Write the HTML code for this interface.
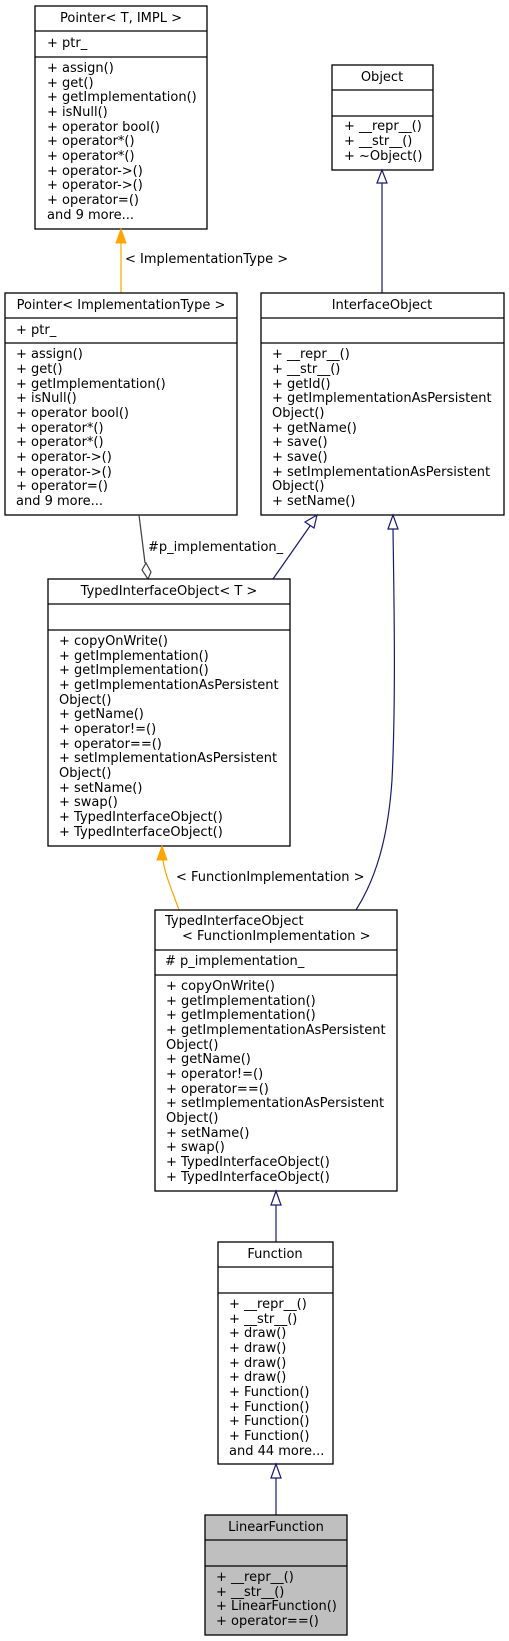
<!DOCTYPE html>
<html><head><meta charset="utf-8"><style>
html,body{margin:0;padding:0;background:#fff;}
svg{display:block;}
text{font-family:"DejaVu Sans","Liberation Sans",sans-serif;font-size:13px;fill:#000;}
.b{fill:#fff;stroke:#000;stroke-width:1.3;}
.g{fill:#bfbfbf;stroke:#000;stroke-width:1.3;}
.s{stroke:#000;stroke-width:1.3;}
</style></head><body>
<svg width="509" height="1641" viewBox="0 0 509 1641" xmlns="http://www.w3.org/2000/svg">
<rect class="b" x="35" y="6" width="172" height="223"/>
<line class="s" x1="35" y1="31" x2="207" y2="31"/><line class="s" x1="35" y1="57" x2="207" y2="57"/>
<text x="121" y="22" text-anchor="middle">Pointer&lt; T, IMPL &gt;</text>
<text x="47" y="47">+ ptr_</text>
<text x="47" y="72">+ assign()</text>
<text x="47" y="87">+ get()</text>
<text x="47" y="101">+ getImplementation()</text>
<text x="47" y="116">+ isNull()</text>
<text x="47" y="131">+ operator bool()</text>
<text x="47" y="145">+ operator*()</text>
<text x="47" y="160">+ operator*()</text>
<text x="47" y="175">+ operator-&gt;()</text>
<text x="47" y="189">+ operator-&gt;()</text>
<text x="47" y="204">+ operator=()</text>
<text x="47" y="219">and 9 more...</text>
<rect class="b" x="332" y="65" width="101" height="105"/>
<line class="s" x1="332" y1="90" x2="433" y2="90"/><line class="s" x1="332" y1="116" x2="433" y2="116"/>
<text x="382" y="81" text-anchor="middle">Object</text>
<text x="344" y="130">+ __repr__()</text>
<text x="344" y="145">+ __str__()</text>
<text x="344" y="160">+ ~Object()</text>
<line x1="121" y1="293" x2="121" y2="243" stroke="#ffa500" stroke-width="1.2"/>
<polygon points="121,229 116,243 126,243" fill="#ffa500" stroke="#ffa500"/>
<text x="125" y="263">&lt; ImplementationType &gt;</text>
<line x1="382" y1="293" x2="382" y2="183" stroke="#191970" stroke-width="1.2"/>
<polygon points="382,170 377,183 387,183" fill="#fff" stroke="#191970" stroke-width="1.2"/>
<rect class="b" x="5" y="293" width="232" height="222"/>
<line class="s" x1="5" y1="318" x2="237" y2="318"/><line class="s" x1="5" y1="343" x2="237" y2="343"/>
<text x="121" y="309" text-anchor="middle">Pointer&lt; ImplementationType &gt;</text>
<text x="16" y="334">+ ptr_</text>
<text x="16" y="358">+ assign()</text>
<text x="16" y="373">+ get()</text>
<text x="16" y="388">+ getImplementation()</text>
<text x="16" y="402">+ isNull()</text>
<text x="16" y="417">+ operator bool()</text>
<text x="16" y="432">+ operator*()</text>
<text x="16" y="446">+ operator*()</text>
<text x="16" y="461">+ operator-&gt;()</text>
<text x="16" y="476">+ operator-&gt;()</text>
<text x="16" y="490">+ operator=()</text>
<text x="16" y="505">and 9 more...</text>
<rect class="b" x="261" y="293" width="243" height="222"/>
<line class="s" x1="261" y1="318" x2="504" y2="318"/><line class="s" x1="261" y1="343" x2="504" y2="343"/>
<text x="382" y="309" text-anchor="middle">InterfaceObject</text>
<text x="272" y="358">+ __repr__()</text>
<text x="272" y="373">+ __str__()</text>
<text x="272" y="388">+ getId()</text>
<text x="272" y="402">+ getImplementationAsPersistent</text>
<text x="272" y="417">Object()</text>
<text x="272" y="432">+ getName()</text>
<text x="272" y="446">+ save()</text>
<text x="272" y="461">+ save()</text>
<text x="272" y="476">+ setImplementationAsPersistent</text>
<text x="272" y="490">Object()</text>
<text x="272" y="505">+ setName()</text>
<line x1="139" y1="515" x2="145" y2="563" stroke="#404040" stroke-width="1.2"/>
<polygon points="148,579 142,570 146,563 151,572" fill="#fff" stroke="#404040" stroke-width="1.2"/>
<text x="148" y="551">#p_implementation_</text>
<line x1="273" y1="579" x2="310" y2="526" stroke="#191970" stroke-width="1.2"/>
<polygon points="317,515 305,522 314,528" fill="#fff" stroke="#191970" stroke-width="1.2"/>
<path d="M393,529 C394,600 396,700 392,780 C388,840 375,880 356,910" fill="none" stroke="#191970" stroke-width="1.2"/>
<polygon points="393,515 388,529 398,529" fill="#fff" stroke="#191970" stroke-width="1.2"/>
<rect class="b" x="48" y="579" width="242" height="267"/>
<line class="s" x1="48" y1="604" x2="290" y2="604"/><line class="s" x1="48" y1="630" x2="290" y2="630"/>
<text x="169" y="595" text-anchor="middle">TypedInterfaceObject&lt; T &gt;</text>
<text x="59" y="645">+ copyOnWrite()</text>
<text x="59" y="660">+ getImplementation()</text>
<text x="59" y="674">+ getImplementation()</text>
<text x="59" y="689">+ getImplementationAsPersistent</text>
<text x="59" y="704">Object()</text>
<text x="59" y="718">+ getName()</text>
<text x="59" y="733">+ operator!=()</text>
<text x="59" y="748">+ operator==()</text>
<text x="59" y="762">+ setImplementationAsPersistent</text>
<text x="59" y="777">Object()</text>
<text x="59" y="792">+ setName()</text>
<text x="59" y="806">+ swap()</text>
<text x="59" y="821">+ TypedInterfaceObject()</text>
<text x="59" y="836">+ TypedInterfaceObject()</text>
<path d="M179,910 C172,890 165,875 163,860" fill="none" stroke="#ffa500" stroke-width="1.2"/>
<polygon points="162,846 157,860 167,860" fill="#ffa500" stroke="#ffa500"/>
<text x="176" y="881">&lt; FunctionImplementation &gt;</text>
<rect class="b" x="155" y="910" width="242" height="281"/>
<line class="s" x1="155" y1="950" x2="397" y2="950"/><line class="s" x1="155" y1="975" x2="397" y2="975"/>
<text x="165" y="925">TypedInterfaceObject</text>
<text x="182" y="940">&lt; FunctionImplementation &gt;</text>
<text x="165" y="965"># p_implementation_</text>
<text x="166" y="990">+ copyOnWrite()</text>
<text x="166" y="1005">+ getImplementation()</text>
<text x="166" y="1019">+ getImplementation()</text>
<text x="166" y="1034">+ getImplementationAsPersistent</text>
<text x="166" y="1049">Object()</text>
<text x="166" y="1063">+ getName()</text>
<text x="166" y="1078">+ operator!=()</text>
<text x="166" y="1093">+ operator==()</text>
<text x="166" y="1107">+ setImplementationAsPersistent</text>
<text x="166" y="1122">Object()</text>
<text x="166" y="1137">+ setName()</text>
<text x="166" y="1151">+ swap()</text>
<text x="166" y="1166">+ TypedInterfaceObject()</text>
<text x="166" y="1181">+ TypedInterfaceObject()</text>
<line x1="276" y1="1242" x2="276" y2="1205" stroke="#191970" stroke-width="1.2"/>
<polygon points="276,1191 271,1205 281,1205" fill="#fff" stroke="#191970" stroke-width="1.2"/>
<rect class="b" x="218" y="1242" width="115" height="222"/>
<line class="s" x1="218" y1="1267" x2="333" y2="1267"/><line class="s" x1="218" y1="1293" x2="333" y2="1293"/>
<text x="275" y="1258" text-anchor="middle">Function</text>
<text x="229" y="1308">+ __repr__()</text>
<text x="229" y="1323">+ __str__()</text>
<text x="229" y="1337">+ draw()</text>
<text x="229" y="1352">+ draw()</text>
<text x="229" y="1367">+ draw()</text>
<text x="229" y="1381">+ draw()</text>
<text x="229" y="1396">+ Function()</text>
<text x="229" y="1411">+ Function()</text>
<text x="229" y="1425">+ Function()</text>
<text x="229" y="1440">+ Function()</text>
<text x="229" y="1455">and 44 more...</text>
<line x1="276" y1="1515" x2="276" y2="1478" stroke="#191970" stroke-width="1.2"/>
<polygon points="276,1464 271,1478 281,1478" fill="#fff" stroke="#191970" stroke-width="1.2"/>
<rect class="g" x="205" y="1515" width="142" height="120"/>
<line class="s" x1="205" y1="1540" x2="347" y2="1540"/><line class="s" x1="205" y1="1566" x2="347" y2="1566"/>
<text x="276" y="1531" text-anchor="middle">LinearFunction</text>
<text x="216" y="1581">+ __repr__()</text>
<text x="216" y="1596">+ __str__()</text>
<text x="216" y="1610">+ LinearFunction()</text>
<text x="216" y="1625">+ operator==()</text>
</svg>
</body></html>
